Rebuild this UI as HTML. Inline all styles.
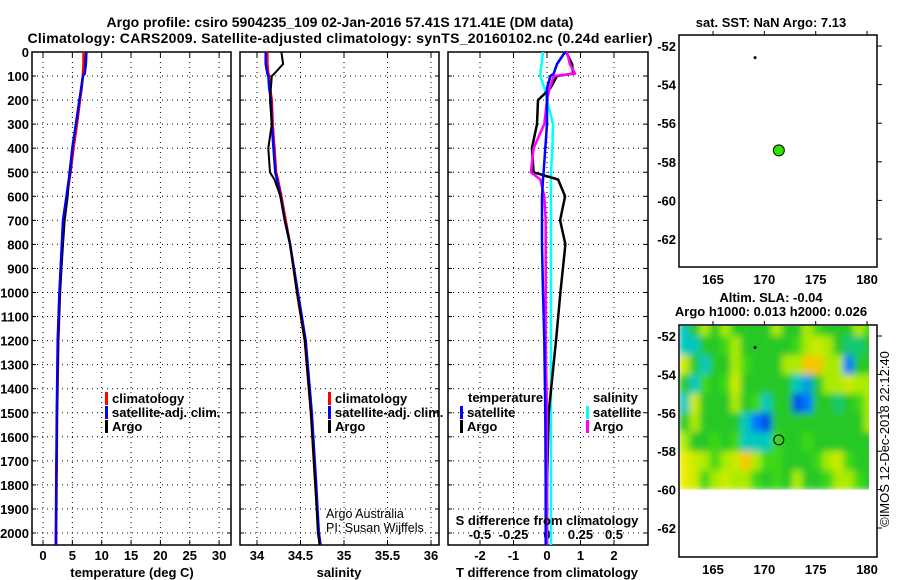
<!DOCTYPE html>
<html><head><meta charset="utf-8"><style>
body{margin:0;background:#fff;}
svg{display:block;font-family:"Liberation Sans",Arial,sans-serif;}
.b{font-weight:bold;font-size:13px;}
.t{font-weight:bold;font-size:14px;}
</style></head><body>
<svg id="s" width="900" height="580" viewBox="0 0 900 580" xmlns="http://www.w3.org/2000/svg">
<defs><filter id="bl" x="0" y="0" width="1" height="1"><feGaussianBlur stdDeviation="3.5" edgeMode="duplicate"/></filter></defs>
<rect width="900" height="580" fill="#fff"/>
<text class="t" x="340" y="27" text-anchor="middle">Argo profile: csiro 5904235_109 02-Jan-2016 57.41S 171.41E (DM data)</text>
<text class="t" x="340" y="43" text-anchor="middle" textLength="625">Climatology: CARS2009. Satellite-adjusted climatology: synTS_20160102.nc (0.24d earlier)</text>
<g id="g"></g>
</svg>
<script>
// ---- data ----
const depths = [0,50,90,100,150,200,300,400,500,530,600,700,800,1000,1200,1500,1800,2000,2050];
const tempArgo = [7.3,7.2,7.1,6.8,6.5,6.2,5.6,5.0,4.5,4.4,4.2,3.7,3.4,2.9,2.6,2.4,2.3,2.2,2.2];
const tempClim = [6.9,6.9,6.8,6.8,6.6,6.3,5.8,5.2,4.7,4.5,4.1,3.5,3.3,2.9,2.6,2.4,2.3,2.25,2.25];
const tempSat  = [7.4,7.3,7.1,6.8,6.5,6.2,5.6,5.0,4.6,4.4,4.0,3.4,3.2,2.8,2.5,2.35,2.25,2.2,2.2];
const salArgo = [34.28,34.3,34.2,34.17,34.16,34.15,34.17,34.13,34.15,34.2,34.27,34.32,34.38,34.46,34.55,34.62,34.67,34.7,34.72];
const salClim = [34.12,34.12,34.13,34.14,34.15,34.17,34.18,34.2,34.22,34.24,34.28,34.33,34.38,34.46,34.55,34.62,34.67,34.71,34.73];
const salSat  = [34.1,34.1,34.12,34.13,34.14,34.16,34.17,34.19,34.21,34.23,34.27,34.32,34.38,34.47,34.56,34.63,34.68,34.71,34.73];
const dTArgo = [0.57,0.75,0.78,0.3,0.1,-0.27,-0.3,-0.45,-0.4,0.33,0.54,0.39,0.55,0.4,0.27,0.05,0.0,0.0,0.0];
const dTSat  = [0.54,0.3,0.2,0.1,0.0,0.0,0.0,-0.05,-0.1,-0.12,-0.15,-0.15,-0.15,-0.12,-0.08,-0.05,-0.04,-0.04,-0.04];
const dSArgo = [0.15,0.17,0.21,0.05,0.02,0.0,-0.02,-0.1,-0.12,-0.05,-0.02,-0.01,-0.01,-0.01,-0.01,0.0,0.0,0.0,0.0];
const dSSat  = [-0.03,-0.04,-0.05,-0.05,-0.02,0.0,0.045,0.04,0.03,0.03,0.03,0.03,0.03,0.03,0.03,0.03,0.03,0.03,0.03];
const depthTicks = [0,100,200,300,400,500,600,700,800,900,1000,1100,1200,1300,1400,1500,1600,1700,1800,1900,2000];
const tempTicks = [0,5,10,15,20,25,30];
const salTicks = [34,34.5,35,35.5,36];
const salTickLabels = ["34","34.5","35","35.5","36"];
const dTTicks = [-2,-1,0,1,2];
const dSTicks = [-0.5,-0.25,0,0.25,0.5];
const dSTickLabels = ["-0.5","-0.25","0","0.25","0.5"];
const latTicks = [-52,-54,-56,-58,-60,-62];
const lonTicks = [165,170,175,180];
const argoPos = [171.41,-57.41];
const otherPos = [169.1,-52.6];
const gridLons = [162,163,164,165,166,167,168,169,170,171,172,173,174,175,176,177,178,179,180];
const gridLatTops = [-51,-52,-53,-54,-55,-56,-57,-58,-59];
const sla = [
[-1,0,1,0,1,0,0,0,0,1,0,0,1,0.5,0,0,0,1,0.5],
[-1,-1,0,0,0.5,1,0,0,0,0,0,0.5,1,1.5,1,0,-0.5,-0.5,0],
[1.5,0,-1,0,0,1,0.5,0,0,0,1,1,2.5,2.5,1,1,-2,0,0],
[0,-1,0.5,0,0.5,1.5,0,0,0,0,0,-1,-1.5,0,1,1,1.5,1,1],
[-1,1.5,0,0,0,1,0,0.5,-1,0,0,-2.5,-2,0,0,-0.5,0,0.5,1],
[0,1,0,0,0,0,-1,-2,-2.5,0,0,0,0,0,0,0,0,0,1],
[1,0,0,0.5,0,0.5,-1,-1,-1,0.5,0,0,0.5,0,0,0,0,0,0],
[2,1.5,1,0.5,1,1.5,2.5,1,0.5,0.5,0,0,0,0.5,1,1.5,0.5,0,0],
[2,1.5,0.5,1,1.5,1,1,0.5,0,0.5,0,1,0,0,0.5,1,1,0.5,0]
];
// ---- helpers ----
const NS="http://www.w3.org/2000/svg", G=document.getElementById('g');
function mk(tag,at,parent){const e=document.createElementNS(NS,tag);for(const k in at)e.setAttribute(k,at[k]);(parent||G).appendChild(e);return e;}
function txt(x,y,s,cls,anchor,extra){const e=mk('text',Object.assign({x:x,y:y,'text-anchor':anchor||'middle'},extra||{}));if(cls)e.setAttribute('class',cls);e.textContent=s;return e;}
const yD = d => 52 + d*0.2405;
const Y0=52, Y1=545;
function panel(x0,x1,name){
  const r=mk('rect',{x:x0,y:Y0,width:x1-x0,height:Y1-Y0,fill:'none',stroke:'#000','stroke-width':1.5});
  
  
  depthTicks.forEach(d=>{if(d>0){const l=mk('line',{x1:x0,x2:x1,y1:yD(d),y2:yD(d),stroke:'#000','stroke-dasharray':'1 4','stroke-width':1});
    
    mk('line',{x1:x0,x2:x0+4,y1:yD(d),y2:yD(d),stroke:'#000'});mk('line',{x1:x1-4,x2:x1,y1:yD(d),y2:yD(d),stroke:'#000'});}});
}
function vgrid(x,name){const l=mk('line',{x1:x,x2:x,y1:Y0,y2:Y1,stroke:'#000','stroke-dasharray':'1 4'});
  
  mk('line',{x1:x,x2:x,y1:Y0,y2:Y0+5,stroke:'#000'});mk('line',{x1:x,x2:x,y1:Y1-5,y2:Y1,stroke:'#000'});}
function line(vals,xf,color,name,w){const p=vals.map((v,i)=>xf(v).toFixed(1)+','+yD(depths[i]).toFixed(1)).join(' ');
  const e=mk('polyline',{points:p,fill:'none',stroke:color,'stroke-width':w||2.5,'stroke-linejoin':'round'});
  }
function legend(x,y,color,label,name){const m=mk('rect',{x:x,y:y-11,width:3,height:13,fill:color});
  
  const t=txt(x+7,y,label,'b','start');}
// depth labels
depthTicks.forEach(d=>{const t=txt(29,yD(d)+5,String(d),'b','end');});
// Panel 1 temperature
const xT = v => 43 + v*5.87;
panel(32,231,'temperature-panel');
tempTicks.forEach(v=>{vgrid(xT(v),'temp-gridline');const t=txt(xT(v),560,String(v),'b');});
line(tempClim,xT,'#f00','temp-climatology-line');
line(tempSat,xT,'#00f','temp-satellite-line');
line(tempArgo,xT,'#000','temp-argo-line',2);
line(tempSat,xT,'#00f','temp-satellite-line-top',2);
legend(105,403,'#f00','climatology','legend-climatology');
legend(105,417,'#00f','satellite-adj. clim.','legend-satellite');
legend(105,431,'#000','Argo','legend-argo');
let a=txt(132,577,'temperature (deg C)','b');
// Panel 2 salinity
const xS = v => 257 + (v-34)*87;
panel(240,439,'salinity-panel');
salTicks.forEach((v,i)=>{vgrid(xS(v),'sal-gridline');const t=txt(xS(v),560,salTickLabels[i],'b');});
line(salClim,xS,'#f00','sal-climatology-line');
line(salSat,xS,'#00f','sal-satellite-line');
line(salArgo,xS,'#000','sal-argo-line',2);
legend(328,403,'#f00','climatology','legend-sal-climatology');
legend(328,417,'#00f','satellite-adj. clim.','legend-sal-satellite');
legend(328,431,'#000','Argo','legend-sal-argo');
a=txt(326,518,'Argo Australia',null,'start',{'font-size':'12.5'});
a=txt(326,532,'PI: Susan Wijffels',null,'start',{'font-size':'12.5'});
a=txt(339,577,'salinity','b');
// Panel 3 differences
const xdT = v => 547 + v*33.5;
const xdS = v => 547 + v*134;
panel(448,648,'difference-panel');
dTTicks.forEach(v=>{vgrid(xdT(v),'diff-gridline');const t=txt(xdT(v),560,String(v),'b');});
dSTicks.forEach((v,i)=>{const t=txt(xdS(v),539,dSTickLabels[i],'b');});
line(dSSat,xdS,'#0ff','sdiff-satellite-line');
line(dTArgo,xdT,'#000','tdiff-argo-line');
line(dSArgo,xdS,'#f0f','sdiff-argo-line');
line(dTSat,xdT,'#00f','tdiff-satellite-line');
a=txt(468,402,'temperature','b','start');
legend(460,417,'#00f','satellite','legend-tdiff-satellite');
legend(460,431,'#000','Argo','legend-tdiff-argo');
a=txt(593,402,'salinity','b','start');
legend(586,417,'#0ff','satellite','legend-sdiff-satellite');
legend(586,431,'#f0f','Argo','legend-sdiff-argo');
a=txt(547,525,'S difference from climatology','b');
a=txt(547,577,'T difference from climatology','b');
// Maps
const xL = v => 713 + (v-165)*10.27;
function mapFrame(top,bot,latY,name){
  latTicks.forEach(v=>{const y=latY(v);const t=txt(676,y+5,String(v),'b','end');
    mk('line',{x1:877,x2:882,y1:y,y2:y,stroke:'#000'});});
  lonTicks.forEach(v=>{const x=xL(v);const t=txt(x,bot+17,String(v),'b');
    mk('line',{x1:x,x2:x,y1:top-4,y2:top,stroke:'#000'});});
}
// top map
const yM1 = v => 46 + (-52-v)*19.3;
mapFrame(35,267,yM1,'sst-map');
let f=mk('rect',{x:679,y:35,width:198,height:232,fill:'none',stroke:'#000','stroke-width':1.5});

let c=mk('circle',{cx:xL(otherPos[0]),cy:yM1(otherPos[1]),r:1.5,fill:'#000'});

c=mk('circle',{cx:xL(argoPos[0]),cy:yM1(argoPos[1]),r:5.5,fill:'#33e000',stroke:'#000','stroke-width':1});

a=txt(771,27,'sat. SST: NaN Argo: 7.13','b');
a=txt(771,302,'Altim. SLA: -0.04','b');
a=txt(771,316,'Argo h1000: 0.013 h2000: 0.026','b');
// bottom map
const yM2 = v => 336 + (-52-v)*19.2;
mapFrame(325,557,yM2,'sla-map');
const cp=mk('clipPath',{id:'mc'});mk('rect',{x:680,y:326,width:189,height:yM2(-60)-326},cp);
const hgo=mk('g',{'clip-path':'url(#mc)'});
const hg=mk('g',{filter:'url(#bl)'},hgo);

const stops=[[-3,[0,40,200]],[-2,[0,120,255]],[-1,[0,200,190]],[0,[40,200,40]],[0.5,[60,215,20]],[1,[170,235,0]],[2,[235,235,0]],[3,[255,160,0]]];
function col(v){for(let i=0;i<stops.length-1;i++){const[a0,c0]=stops[i],[a1,c1]=stops[i+1];if(v<=a1){const t=Math.max(0,(v-a0)/(a1-a0));return 'rgb('+c0.map((q,k)=>Math.round(q+(c1[k]-q)*t)).join(',')+')';}}return 'rgb(255,160,0)';}
sla.forEach((row,r)=>row.forEach((v,ci)=>{const x=xL(gridLons[ci]-0.3),y=yM2(gridLatTops[r]);
  const e=mk('rect',{x:x.toFixed(1),y:y.toFixed(1),width:10.8,height:19.7,fill:col(v)},hg);
  }));
f=mk('rect',{x:679,y:325,width:198,height:232,fill:'none',stroke:'#000','stroke-width':1.5});

c=mk('circle',{cx:xL(otherPos[0]),cy:yM2(otherPos[1]),r:1.5,fill:'#000'});

c=mk('circle',{cx:xL(argoPos[0]),cy:yM2(argoPos[1]),r:5,fill:'none',stroke:'#000','stroke-width':1});

a=txt(0,0,'©IMOS 12-Dec-2018 22:12:40',null,'middle',{'font-size':'13',transform:'translate(889,439) rotate(-90)'});

</script>
</body></html>
